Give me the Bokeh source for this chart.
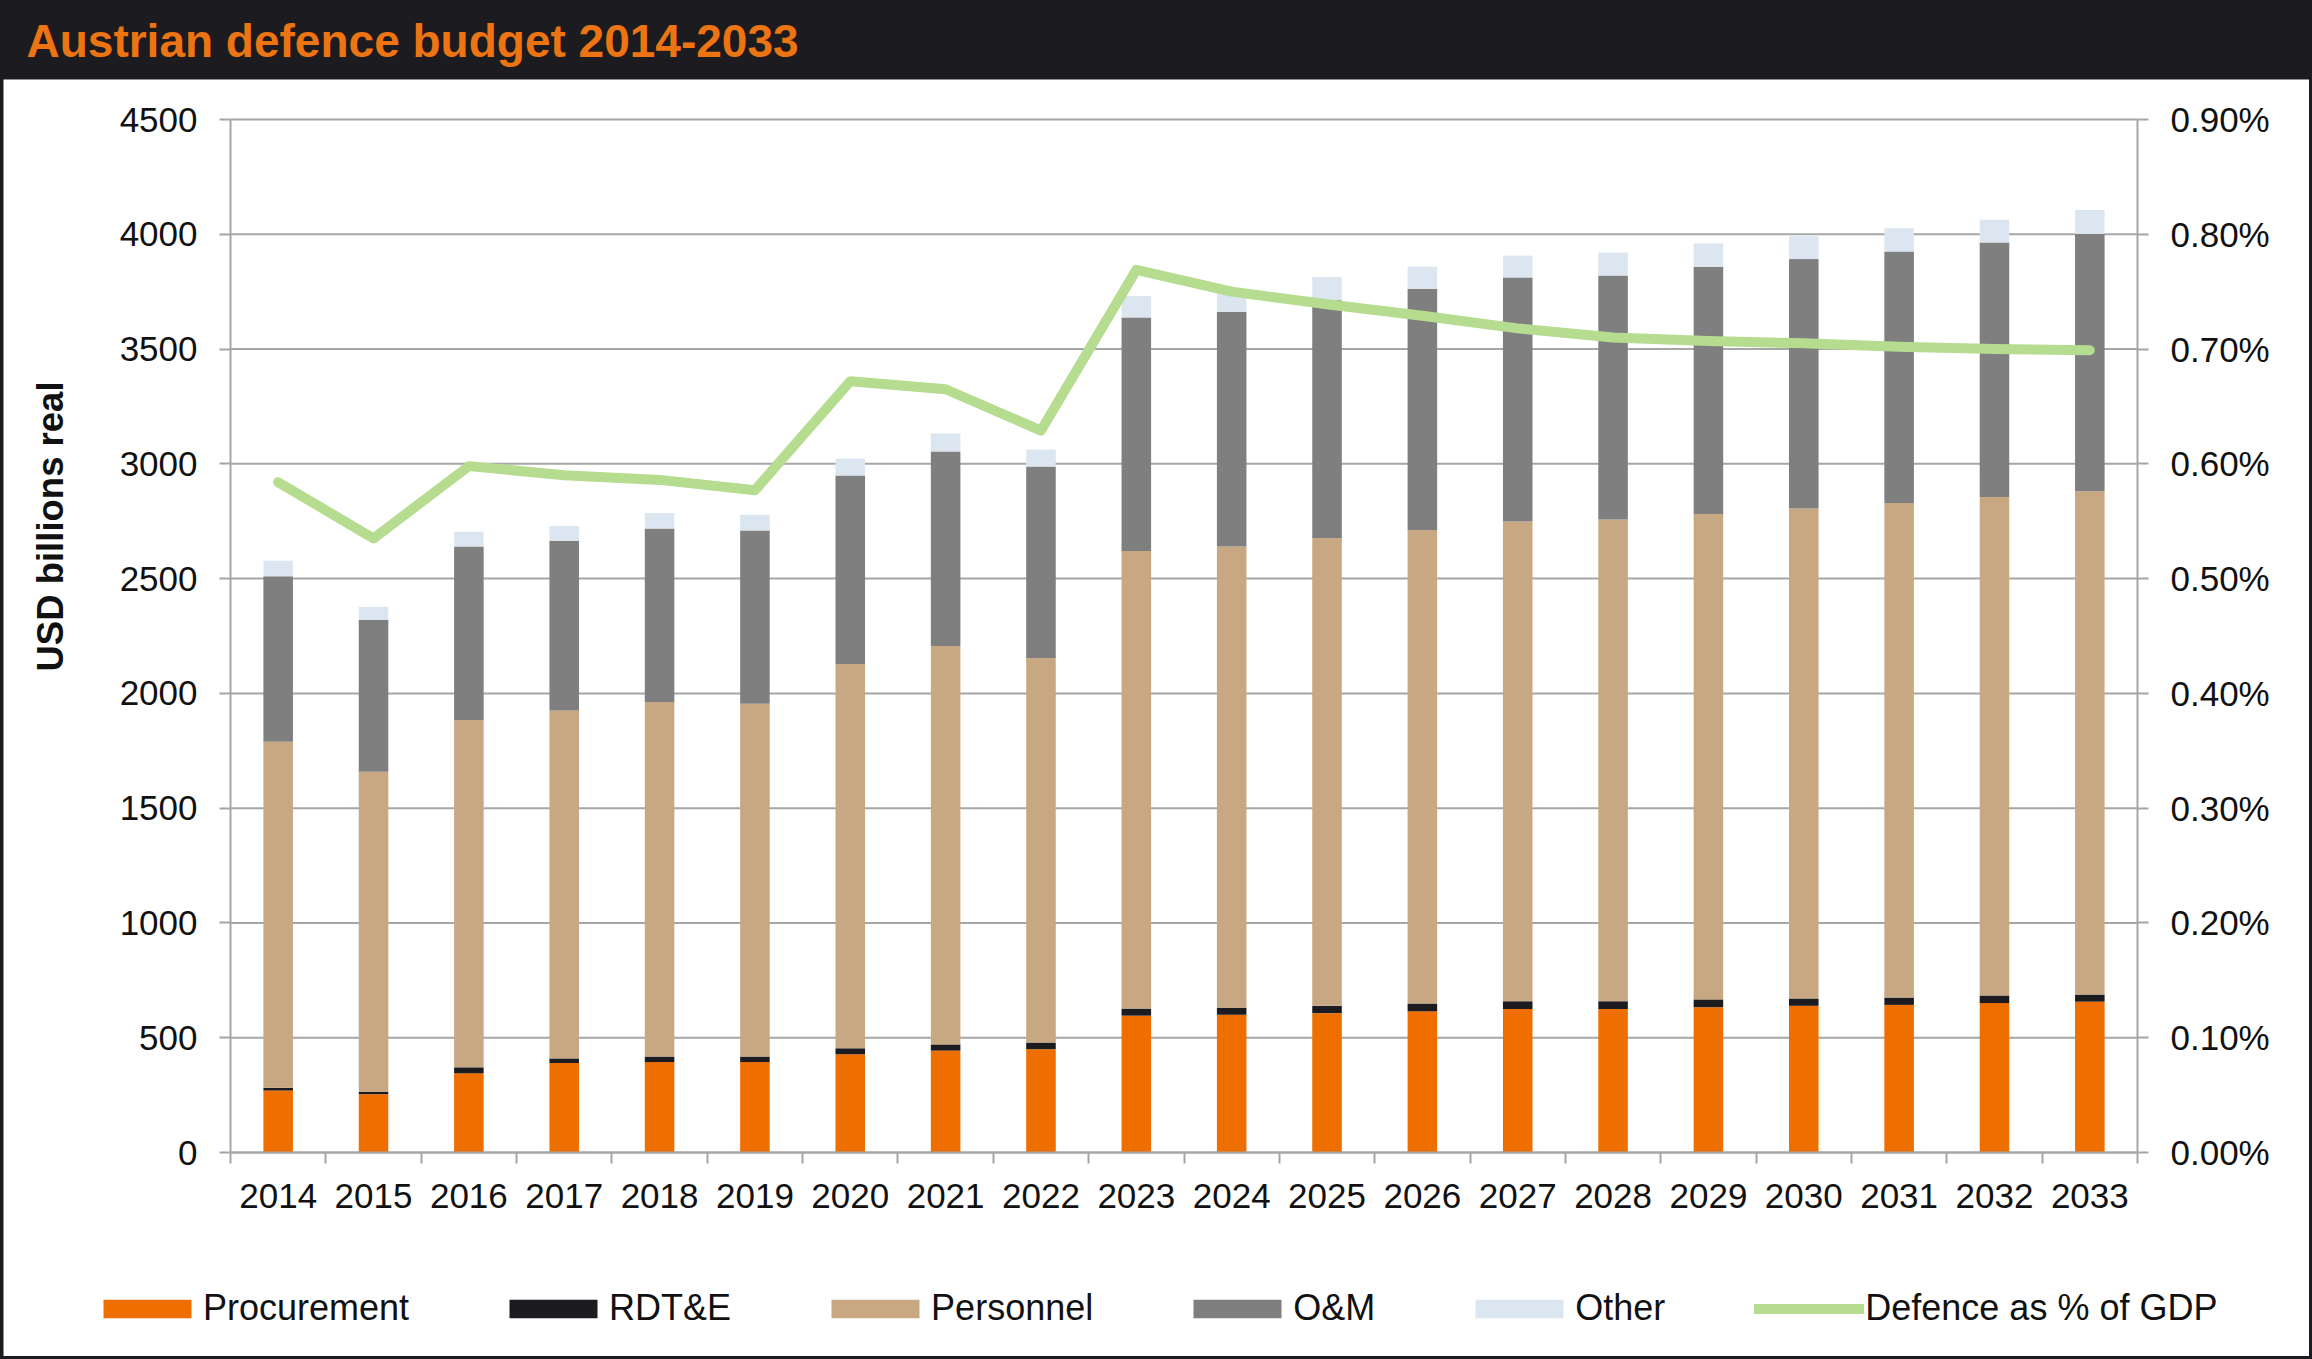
from bokeh.plotting import figure
from bokeh.models import (ColumnDataSource, Range1d, LinearAxis, FixedTicker,
                          PrintfTickFormatter, Legend, LegendItem, Title, Label)
from bokeh.layouts import column
from bokeh.embed import file_html
from bokeh.resources import INLINE
import math

# ---------------- data ----------------
years = [str(y) for y in range(2014, 2034)]
procurement = [270, 254, 345, 390, 394, 394, 428, 444, 450, 596,
               600, 607, 615, 625, 625, 633, 639, 643, 651, 657]
rdte = [12, 10, 26, 20, 24, 24, 26, 27, 29, 31,
        31, 32, 34, 34, 34, 34, 32, 32, 33, 31]
personnel = [1507, 1395, 1513, 1515, 1545, 1537, 1674, 1735, 1675, 1993,
             2009, 2038, 2063, 2090, 2098, 2115, 2134, 2154, 2172, 2193]
om = [721, 662, 756, 740, 755, 755, 821, 848, 834, 1018,
      1023, 1036, 1051, 1063, 1063, 1077, 1087, 1096, 1108, 1120]
other = [68, 56, 64, 64, 68, 68, 74, 78, 74, 93,
         95, 101, 96, 95, 101, 101, 99, 101, 99, 105]
gdp_pct = [0.584, 0.535, 0.598, 0.590, 0.586, 0.577, 0.672, 0.665, 0.629, 0.769,
           0.750, 0.739, 0.729, 0.718, 0.710, 0.707, 0.705, 0.702, 0.700, 0.699]
series_names = ["Procurement", "RDT&E", "Personnel", "O&M", "Other"]
line_name = "Defence as % of GDP"
left_ticks = [0, 500, 1000, 1500, 2000, 2500, 3000, 3500, 4000, 4500]
right_ticks = [0.0, 0.1, 0.2, 0.3, 0.4, 0.5, 0.6, 0.7, 0.8, 0.9]
title_text = "Austrian defence budget 2014-2033"
y_label = "USD billions real"

# ---------------- style ----------------
FONT = "Liberation Sans"
C_PROC = "#ee6f00"
C_RDTE = "#1c1b1f"
C_PERS = "#c8a882"
C_OM = "#7f7f7f"
C_OTHER = "#dce6f0"
C_LINE = "#b5dc8f"
C_GRID = "#a6a6a6"
C_BAND = "#1c1b1f"
C_TITLE = "#ec7412"
colors = [C_PROC, C_RDTE, C_PERS, C_OM, C_OTHER]

W = 2312
H_TITLE = 79
FIG_X0, FIG_Y0 = 3, H_TITLE          # page position of the main figure
FIG_W, FIG_H = W - 6, 1277
# page position of the plotting area (axes box)
PA_L, PA_T, PA_R, PA_B = 230, 119, 2137, 1152
NCAT = len(years)
YMAX = left_ticks[-1]
PMAX = right_ticks[-1]

ppx = (PA_R - PA_L) / NCAT
x_start = -(PA_L - FIG_X0) / ppx
x_end = NCAT + (FIG_X0 + FIG_W - PA_R) / ppx
ppy = (PA_B - PA_T) / YMAX
y_start = -(FIG_Y0 + FIG_H - PA_B) / ppy
y_end = YMAX + (PA_T - FIG_Y0) / ppy
p_start = y_start * PMAX / YMAX
p_end = y_end * PMAX / YMAX

xs = [i + 0.5 for i in range(NCAT)]
src = ColumnDataSource(dict(x=xs, Procurement=procurement, RDTE=rdte,
                            Personnel=personnel, OM=om, Other=other, gdp=gdp_pct))
stack_cols = ["Procurement", "RDTE", "Personnel", "OM", "Other"]

# ---------------- title band ----------------
pt = figure(width=W, height=H_TITLE, toolbar_location=None, output_backend="svg",
            x_range=Range1d(0, 1), y_range=Range1d(0, 1), title=None,
            x_axis_location=None, y_axis_location=None, min_border=0)
pt.min_border_top = 66
pt.grid.visible = False
pt.outline_line_color = None
pt.border_fill_color = C_BAND
pt.background_fill_color = C_BAND
pt.add_layout(Title(text=title_text, align="left", offset=26, standoff=0,
                    text_font=FONT, text_font_style="bold", text_font_size="46px",
                    text_color=C_TITLE), "above")

# ---------------- main chart ----------------
p = figure(width=FIG_W, height=FIG_H, toolbar_location=None, output_backend="svg",
           x_range=Range1d(x_start, x_end), y_range=Range1d(y_start, y_end),
           x_axis_location=None, y_axis_location=None, min_border=0, title=None)
p.margin = (0, 3, 3, 3)
p.outline_line_color = None
p.background_fill_color = "white"
p.border_fill_color = "white"
p.grid.visible = False
p.extra_y_ranges = {"pct": Range1d(p_start, p_end)}

# horizontal gridlines at the left-axis ticks
p.segment(x0=[0] * len(left_ticks), x1=[NCAT] * len(left_ticks),
          y0=left_ticks, y1=left_ticks, line_color=C_GRID, line_width=2,
          level="underlay")

renderers = p.vbar_stack(stack_cols, x="x", width=0.31, source=src,
                         fill_color=colors, line_color=None)
line_r = p.line("x", "gdp", source=src, y_range_name="pct", line_color=C_LINE,
                line_width=10, line_cap="round", line_join="round")

def style_axis(ax):
    ax.axis_line_color = C_GRID
    ax.axis_line_width = 2
    ax.major_tick_line_color = C_GRID
    ax.major_tick_line_width = 2
    ax.major_tick_in = 0
    ax.major_tick_out = 11
    ax.minor_tick_line_color = None
    ax.major_label_text_font = FONT
    ax.major_label_text_font_size = "35px"
    ax.major_label_text_color = "#111111"
    ax.major_label_standoff = 22

yl = LinearAxis(ticker=FixedTicker(ticks=left_ticks), fixed_location=0,
                bounds=(0, YMAX))
style_axis(yl)
p.add_layout(yl, "left")

yr = LinearAxis(y_range_name="pct", ticker=FixedTicker(ticks=right_ticks),
                formatter=PrintfTickFormatter(format="%.2f%%"),
                fixed_location=NCAT, bounds=(0, PMAX))
style_axis(yr)
p.add_layout(yr, "right")

xa = LinearAxis(ticker=FixedTicker(ticks=xs, minor_ticks=list(range(0, NCAT + 1))),
                major_label_overrides={x: y for x, y in zip(xs, years)},
                fixed_location=0, bounds=(0, NCAT))
style_axis(xa)
xa.major_tick_out = 0
xa.major_tick_line_color = None
xa.minor_tick_line_color = C_GRID
xa.minor_tick_line_width = 2
xa.minor_tick_in = 0
xa.minor_tick_out = 11
xa.major_label_standoff = 20
p.add_layout(xa, "below")

# y-axis title (screen units relative to the figure area)
p.add_layout(Label(x=50 - FIG_X0, y=FIG_Y0 + FIG_H - 526, x_units="screen",
                   y_units="screen", text=y_label, angle=math.pi / 2,
                   text_font=FONT, text_font_style="bold", text_font_size="36.5px",
                   text_color="#111111", text_align="center",
                   text_baseline="middle"))

items = [LegendItem(label=n, renderers=[r]) for n, r in zip(series_names, renderers)]
items.append(LegendItem(label=line_name, renderers=[line_r]))
legend = Legend(items=items, orientation="horizontal",
                location=(92 - FIG_X0, FIG_Y0 + FIG_H - 1329),
                glyph_width=110, glyph_height=23, label_standoff=1, spacing=89,
                padding=0, margin=0, border_line_color=None,
                background_fill_alpha=0, label_text_font=FONT,
                label_text_font_size="36px", label_text_color="#111111",
                label_height=36)
p.add_layout(legend, "center")

layout = column(pt, p, styles={"background-color": C_BAND})

open("out.html", "w").write(file_html(layout, INLINE))
